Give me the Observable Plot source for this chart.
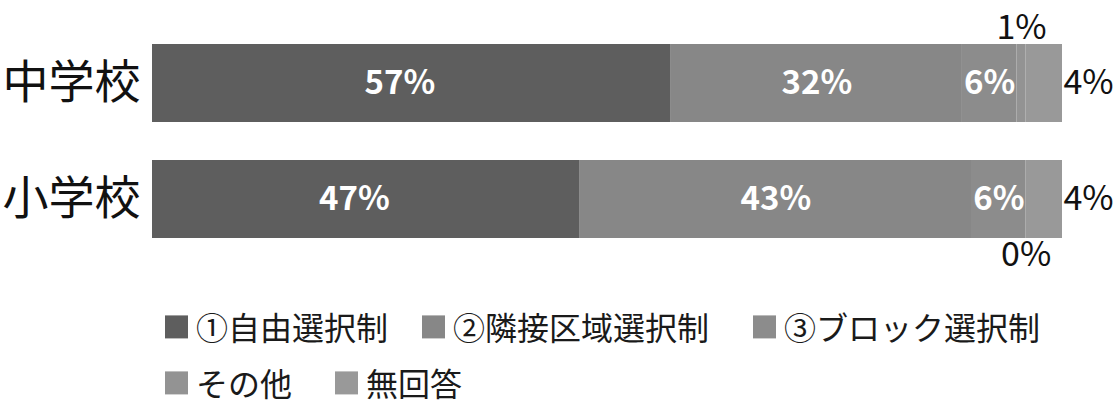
<!DOCTYPE html>
<html><head><meta charset="utf-8">
<script src="https://cdn.jsdelivr.net/npm/d3@7"></script>
<script src="https://cdn.jsdelivr.net/npm/@observablehq/plot@0.6"></script>
<style>
body{margin:0;background:#fff;font-family:"Noto Sans CJK JP",sans-serif;overflow:hidden;}
#chart svg{display:block;}
#legend{position:relative;width:1116px;height:128px;}
.item{position:absolute;display:flex;align-items:center;font-size:32px;color:#1a1a1a;line-height:1.1;white-space:nowrap;transform:translateY(-50%);}
.sw{width:23px;height:23px;margin-right:8px;flex:none;}
</style></head><body>
<div id="chart"></div><div id="legend"></div>
<script>
const schools = ["中学校", "小学校"];
const categories = ["①自由選択制", "②隣接区域選択制", "③ブロック選択制", "その他", "無回答"];
const juniorHighValues = [57, 32, 6, 1, 4];
const elementaryValues = [47, 43, 6, 0, 4];
const colors = ["#5e5e5e", "#878787", "#8c8c8c", "#939393", "#999999"];

const rows = [];
schools.forEach((s, i) => {
  const vals = i === 0 ? juniorHighValues : elementaryValues;
  let acc = 0;
  vals.forEach((v, j) => {
    rows.push({school: s, category: categories[j], value: v, x1: acc, x2: acc + v, idx: j});
    acc += v;
  });
});
const mid = d => (d.x1 + d.x2) / 2;
const pct = d => d.value + "%";

const chart = Plot.plot({
  width: 1116,
  height: 277,
  marginLeft: 152,
  marginRight: 54,
  marginTop: 5,
  marginBottom: 0,
  style: {fontFamily: '"Noto Sans CJK JP", sans-serif', background: "#fff", color: "#111"},
  x: {domain: [0, 100], axis: null},
  y: {domain: schools, padding: 0.325},
  color: {domain: categories, range: colors},
  marks: [
    Plot.barX(rows, {x1: "x1", x2: "x2", y: "school", fill: "category"}),
    Plot.text(rows.filter(d => d.idx === 0), {x: mid, y: "school", text: pct, dx: -12, fill: "white", fontWeight: "bold", fontSize: 33}),
    Plot.text(rows.filter(d => d.idx === 1 || d.idx === 2), {x: mid, y: "school", text: pct, fill: "white", fontWeight: "bold", fontSize: 33}),
    Plot.text(rows.filter(d => d.idx === 3 && d.school === schools[0]), {x: mid, y: "school", text: pct, dy: -55, fill: "#111", fontSize: 34}),
    Plot.text(rows.filter(d => d.idx === 3 && d.school === schools[1]), {x: mid, y: "school", text: pct, dy: 56, fill: "#111", fontSize: 34}),
    Plot.text(rows.filter(d => d.idx === 4), {x: "x2", y: "school", text: pct, textAnchor: "start", dx: 1, fill: "#111", fontSize: 34}),
    Plot.axisY({tickSize: 0, tickPadding: 12, fontSize: 46, label: null, fill: "#111"})
  ]
});
document.getElementById("chart").append(chart);

const legendPos = [[165, 50], [422, 50], [753, 50], [165, 106], [335, 106]];
const legend = document.getElementById("legend");
categories.forEach((c, i) => {
  const it = document.createElement("div");
  it.className = "item";
  it.style.left = legendPos[i][0] + "px";
  it.style.top = legendPos[i][1] + "px";
  const sw = document.createElement("span");
  sw.className = "sw";
  sw.style.background = colors[i];
  it.append(sw, document.createTextNode(c));
  legend.append(it);
});
</script>
</body></html>
